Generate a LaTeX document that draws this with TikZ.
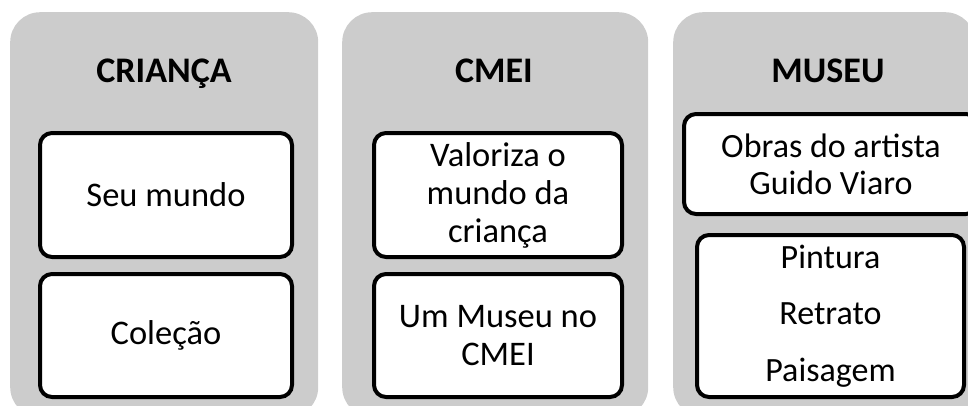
\documentclass[tikz,border=0pt]{standalone}
\usepackage{fontspec}
\setmainfont{Carlito}
\definecolor{panelgray}{HTML}{CCCCCC}
\tikzset{
  panel/.style={draw=none, fill=panelgray, rounded corners=30pt, inner sep=0pt, anchor=north west},
  itembox/.style={draw=black, line width=4pt, fill=white, rounded corners=12pt, inner sep=0pt, anchor=north west, align=center,
     font=\fontsize{34.5}{38}\selectfont},
  title/.style={font=\fontsize{36}{40}\selectfont\bfseries, inner sep=0pt, anchor=base}
}
\begin{document}
\begin{tikzpicture}[x=1pt,y=-1pt]
\useasboundingbox (0,0) rectangle (968,405);
\clip (0,0) rectangle (968,405);
% panels
\node[panel, minimum width=308pt, minimum height=405pt] (p1) at (10,12) {};
\node[panel, minimum width=306pt, minimum height=405pt] (p2) at (342,12) {};
\node[panel, minimum width=302pt, minimum height=405pt] (p3) at (673,12) {};
% titles
\node[title] (t1) at (164,82) {CRIANÇA};
\node[title] (t2) at (494,82) {CMEI};
\node[title] (t3) at (828,82) {MUSEU};
% panel 1 boxes
\node[itembox, minimum width=252pt, minimum height=124pt] (a1) at (38,131) {Seu mundo};
\node[itembox, minimum width=252pt, minimum height=123pt] (a2) at (38,272) {Coleção};
% panel 2 boxes
\node[itembox, minimum width=248pt, minimum height=124pt] (b1) at (372,131) {Valoriza o\\mundo da\\criança};
\node[itembox, minimum width=248pt, minimum height=123pt] (b2) at (372,272) {Um Museu no\\CMEI};
% panel 3 boxes
\node[itembox, minimum width=294pt, minimum height=100pt, font=\fontsize{34}{37}\selectfont] (c1) at (682,112) {Obras do artista\\Guido Viaro};
\node[itembox, minimum width=267pt, minimum height=162pt, font=\fontsize{34}{56.5}\selectfont] (c2) at (695,233) {Pintura\\Retrato\\Paisagem};
\end{tikzpicture}
\end{document}
